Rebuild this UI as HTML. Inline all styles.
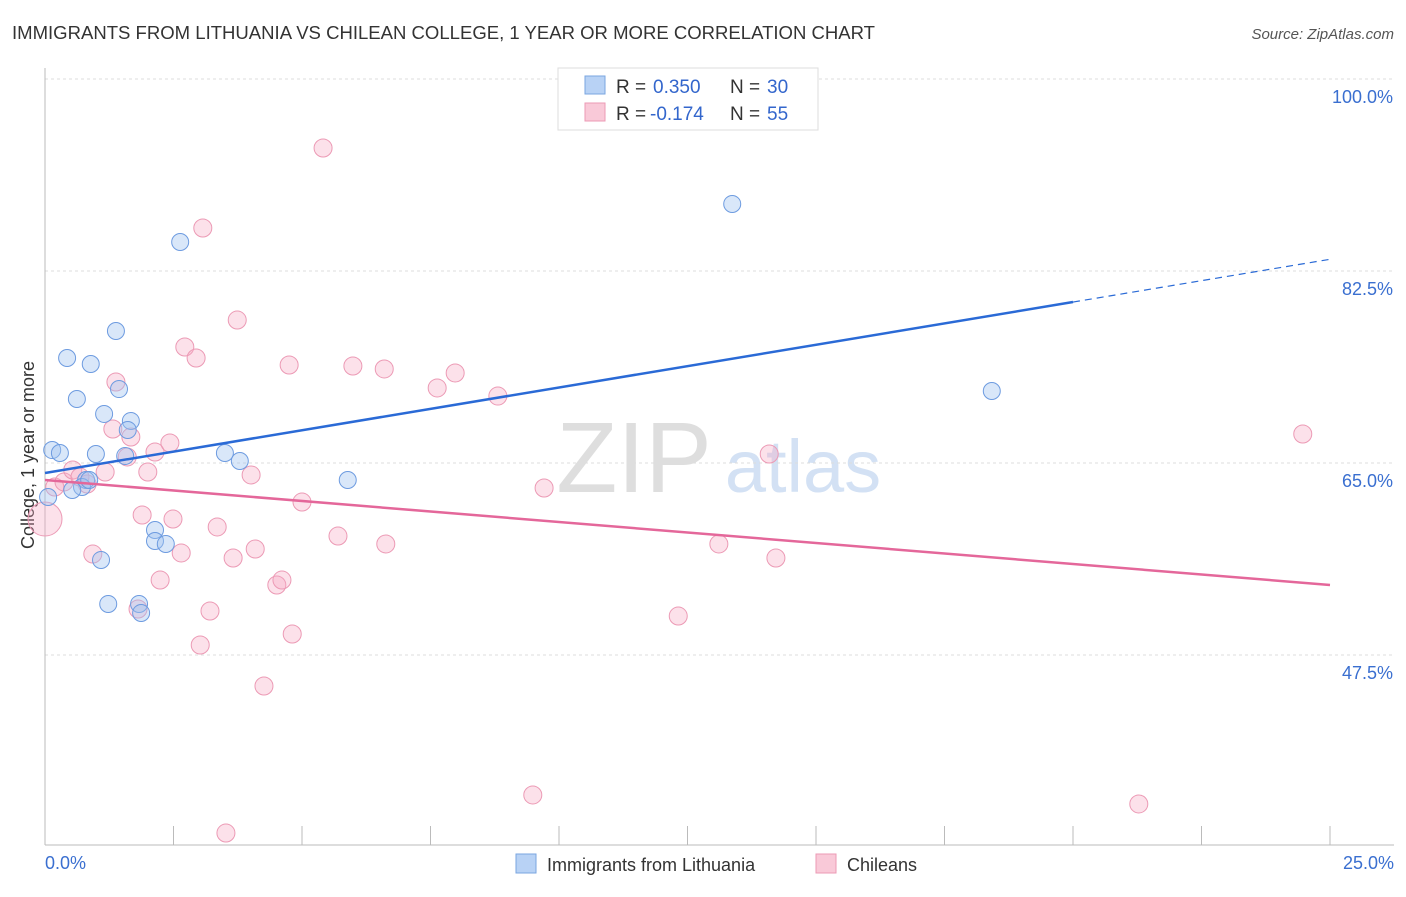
<!DOCTYPE html>
<html><head><meta charset="utf-8"><style>
body{margin:0;background:#fff;font-family:"Liberation Sans",sans-serif;}
svg text{font-family:"Liberation Sans",sans-serif;}
</style></head><body>
<svg id="chart" width="1406" height="892" xmlns="http://www.w3.org/2000/svg">
<text x="12" y="39" font-size="18" fill="#333" textLength="863" lengthAdjust="spacingAndGlyphs">IMMIGRANTS FROM LITHUANIA VS CHILEAN COLLEGE, 1 YEAR OR MORE CORRELATION CHART</text>
<text x="1394" y="39" font-size="15" fill="#555" text-anchor="end" font-style="italic">Source: ZipAtlas.com</text>
<text x="634" y="492" font-size="100" fill="#dedede" font-family="Liberation Serif" text-anchor="middle">ZIP</text>
<text x="803" y="492" font-size="74" fill="#d3e1f4" text-anchor="middle">atlas</text>
<text transform="translate(34,455) rotate(-90)" font-size="18" fill="#333" text-anchor="middle">College, 1 year or more</text>
<g id="grid"></g><g id="axes"></g><g id="pts"></g><g id="lines"></g>
<g>
<rect x="558" y="68" width="260" height="62" fill="#fff" stroke="#ddd"/>
<rect x="585" y="76" width="20" height="18" fill="#b8d2f5" stroke="#7aa6e0"/>
<text x="616" y="93" font-size="19" fill="#333">R =</text>
<text x="653" y="93" font-size="19" fill="#3366cc">0.350</text>
<text x="730" y="93" font-size="19" fill="#333">N =</text>
<text x="767" y="93" font-size="19" fill="#3366cc">30</text>
<rect x="585" y="103" width="20" height="18" fill="#f9c9d8" stroke="#ec9ab5"/>
<text x="616" y="120" font-size="19" fill="#333">R =</text>
<text x="650" y="120" font-size="19" fill="#3366cc">-0.174</text>
<text x="730" y="120" font-size="19" fill="#333">N =</text>
<text x="767" y="120" font-size="19" fill="#3366cc">55</text>
</g>
<g>
<rect x="516" y="854" width="20" height="19" fill="#b8d2f5" stroke="#7aa6e0"/>
<text x="547" y="871" font-size="18" fill="#333">Immigrants from Lithuania</text>
<rect x="816" y="854" width="20" height="19" fill="#f9c9d8" stroke="#ec9ab5"/>
<text x="847" y="871" font-size="18" fill="#333">Chileans</text>
</g>
</svg>
<script>
const yTicks=[100,82.5,65,47.5];
const yTickLabels=["100.0%","82.5%","65.0%","47.5%"];
const xLabels=["0.0%","25.0%"];
const blueX=[0.14,0.29,0.06,0.43,0.62,0.89,0.99,1.15,1.38,1.44,1.67,1.61,1.56,0.80,0.72,0.53,1.09,1.23,1.83,1.87,2.14,2.14,2.35,2.63,3.50,3.79,5.89,13.37,18.42,0.86];
const blueY=[66.18,65.91,61.90,74.57,70.83,74.02,65.82,69.47,77.03,71.74,68.83,68.01,65.64,63.45,62.81,62.54,56.16,52.15,52.15,51.33,58.89,57.89,57.62,85.14,65.91,65.18,63.45,88.61,71.56,63.45];
const pinkX=[0,0.19,0.37,0.54,0.68,0.82,1.17,0.93,1.32,1.38,1.67,1.60,1.89,2.00,2.14,2.24,2.43,2.49,2.65,2.72,2.94,3.07,3.02,3.21,3.35,3.52,3.66,3.74,4.01,4.09,4.26,4.51,4.61,4.75,4.81,5.00,5.41,5.70,5.99,6.60,6.63,7.63,7.98,8.81,9.71,9.49,12.32,13.11,14.09,14.22,21.28,24.47,1.81];
const pinkY=[59.89,62.81,63.27,64.36,63.72,63.08,64.18,56.70,68.10,72.38,67.37,65.55,60.26,64.18,66.00,54.33,66.82,59.89,56.80,75.57,74.57,86.42,48.41,51.51,59.17,31.27,56.34,78.03,63.91,57.16,44.67,53.88,54.33,73.93,49.41,61.44,93.71,58.34,73.84,73.57,57.62,71.84,73.20,71.10,62.72,34.74,51.05,57.62,65.82,56.34,33.92,67.64,51.69];
const blueTrend=[64.09,79.67];
const pinkTrend=[63.45,53.88];
const NS="http://www.w3.org/2000/svg";
const X=v=>45+v*51.4, Y=v=>79+(100-v)*10.971;
function mk(t,a,p){const e=document.createElementNS(NS,t);for(const k in a)e.setAttribute(k,a[k]);p.appendChild(e);return e;}
const grid=document.getElementById('grid'),axes=document.getElementById('axes'),pts=document.getElementById('pts'),lines=document.getElementById('lines');
yTicks.forEach((v,i)=>{
 const l=mk('line',{x1:45,x2:1394,y1:Y(v),y2:Y(v),stroke:'#ddd','stroke-dasharray':'3,3'},grid);
 
 
 const t=mk('text',{x:1393,y:Y(v)+24,'font-size':18,fill:'#3a6fd0','text-anchor':'end'},axes);
 t.textContent=yTickLabels[i];
 
 
});
const ax=mk('line',{x1:45,x2:45,y1:68,y2:845,stroke:'#bbb'},axes);


const bx=mk('line',{x1:45,x2:1394,y1:845,y2:845,stroke:'#bbb'},axes);


for(let i=0;i<=10;i++){const xx=X(i*2.5);const tk=mk('line',{x1:xx,x2:xx,y1:826,y2:845,stroke:'#bbb'},axes);
 
 }
[[0,'start'],[25,'end']].forEach((p,i)=>{const t=mk('text',{x:i?1394:45,y:869,'font-size':18,fill:'#3a6fd0','text-anchor':p[1]},axes);t.textContent=xLabels[i];
 
 });
pinkX.forEach((x,i)=>{const r=i==0?17:9;const c=mk('circle',{cx:X(x),cy:Y(pinkY[i]),r:r,fill:'rgba(245,170,195,0.35)',stroke:'#ec9ab5','stroke-width':1},pts);
 
 });
blueX.forEach((x,i)=>{const c=mk('circle',{cx:X(x),cy:Y(blueY[i]),r:8.5,fill:'rgba(160,195,240,0.4)',stroke:'#6d9be0','stroke-width':1},pts);
 
 });
const bs=(blueTrend[1]-blueTrend[0])/20;
const b1=mk('line',{x1:X(0),y1:Y(blueTrend[0]),x2:X(20),y2:Y(blueTrend[1]),stroke:'#2a6ad6','stroke-width':2.5},lines);


const b2=mk('line',{x1:X(20),y1:Y(blueTrend[1]),x2:X(25),y2:Y(blueTrend[0]+bs*25),stroke:'#2a6ad6','stroke-width':1.2,'stroke-dasharray':'7,5'},lines);


const p1=mk('line',{x1:X(0),y1:Y(pinkTrend[0]),x2:X(25),y2:Y(pinkTrend[1]),stroke:'#e4679a','stroke-width':2.5},lines);


</script>
</body></html>
